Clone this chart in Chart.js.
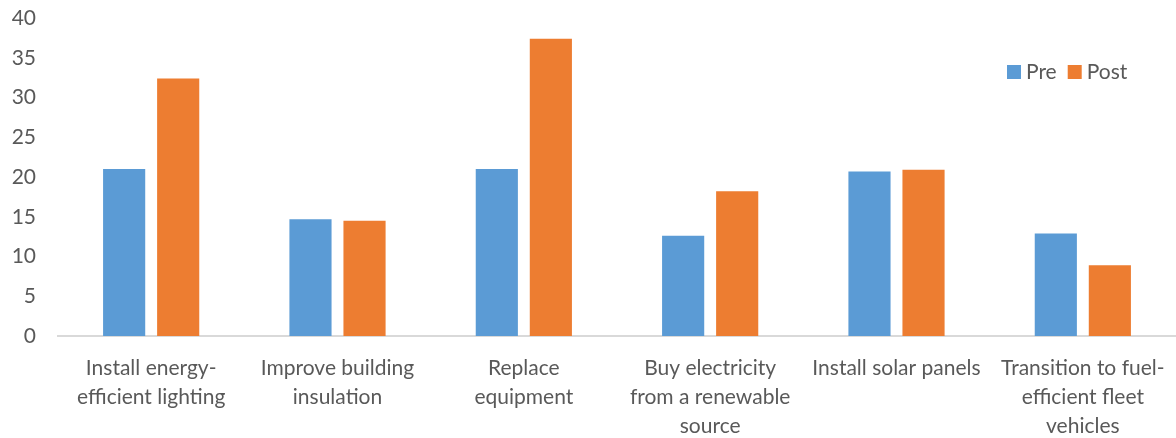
<!DOCTYPE html>
<html>
<head>
<meta charset="utf-8">
<script src="https://cdn.jsdelivr.net/npm/chart.js@4"></script>
<style>
  html, body { margin: 0; padding: 0; background: #fff; }
  #wrap { width: 1176px; height: 438px; }
</style>
</head>
<body>
<div id="wrap"><canvas id="chart" width="1176" height="438"></canvas></div>
<script>
const categories = [
  ["Install energy-", "efficient lighting"],
  ["Improve building", "insulation"],
  ["Replace", "equipment"],
  ["Buy electricity", "from a renewable", "source"],
  ["Install solar panels"],
  ["Transition to fuel-", "efficient fleet", "vehicles"]
];
const preValues = [21.0, 14.7, 21.0, 12.6, 20.7, 12.9];
const postValues = [32.4, 14.5, 37.4, 18.2, 20.9, 8.9];
const seriesNames = ["Pre", "Post"];
const seriesColors = ["#5b9bd5", "#ed7d31"];

const fontFamily = "Lato, 'Open Sans', sans-serif";
const textColor = "#595959";

// legend drawn inside the plot, top right
const cornerLegend = {
  id: "cornerLegend",
  afterDraw(chart) {
    const ctx = chart.ctx;
    ctx.save();
    ctx.font = "21px " + fontFamily;
    ctx.textBaseline = "middle";
    let x = 1007;
    const y = 72;
    chart.data.datasets.forEach(ds => {
      ctx.fillStyle = ds.backgroundColor;
      ctx.fillRect(x, y - 7, 14, 14);
      ctx.fillStyle = textColor;
      ctx.fillText(ds.label, x + 19, y);
      x += 19 + ctx.measureText(ds.label).width + 11;
    });
    ctx.restore();
  }
};

new Chart(document.getElementById("chart"), {
  type: "bar",
  data: {
    labels: categories,
    datasets: [
      { label: seriesNames[0], data: preValues, backgroundColor: seriesColors[0] },
      { label: seriesNames[1], data: postValues, backgroundColor: seriesColors[1] }
    ]
  },
  options: {
    responsive: false,
    animation: false,
    layout: { padding: { top: 18, right: 0, left: 0, bottom: 0 } },
    datasets: {
      bar: { categoryPercentage: 0.58, barPercentage: 0.78 }
    },
    plugins: {
      legend: { display: false },
      tooltip: { enabled: false }
    },
    scales: {
      x: {
        grid: { display: false, drawTicks: false },
        border: { display: true, color: "#d9d9d9", width: 2 },
        ticks: {
          color: textColor,
          font: { family: fontFamily, size: 21, lineHeight: 1.38 },
          padding: 18,
          maxRotation: 0,
          autoSkip: false
        },
        afterFit(scale) {
          scale.height = 102;
          scale.paddingLeft = 0;
          scale.paddingRight = 0;
        }
      },
      y: {
        min: 0,
        max: 40,
        grid: { display: false, drawTicks: false },
        border: { display: false },
        ticks: {
          stepSize: 5,
          color: textColor,
          font: { family: fontFamily, size: 21 },
          padding: 22
        },
        afterFit(scale) {
          scale.width = 58;
          scale.paddingTop = 0;
          scale.paddingBottom = 0;
        }
      }
    }
  },
  plugins: [cornerLegend]
});
</script>
</body>
</html>
